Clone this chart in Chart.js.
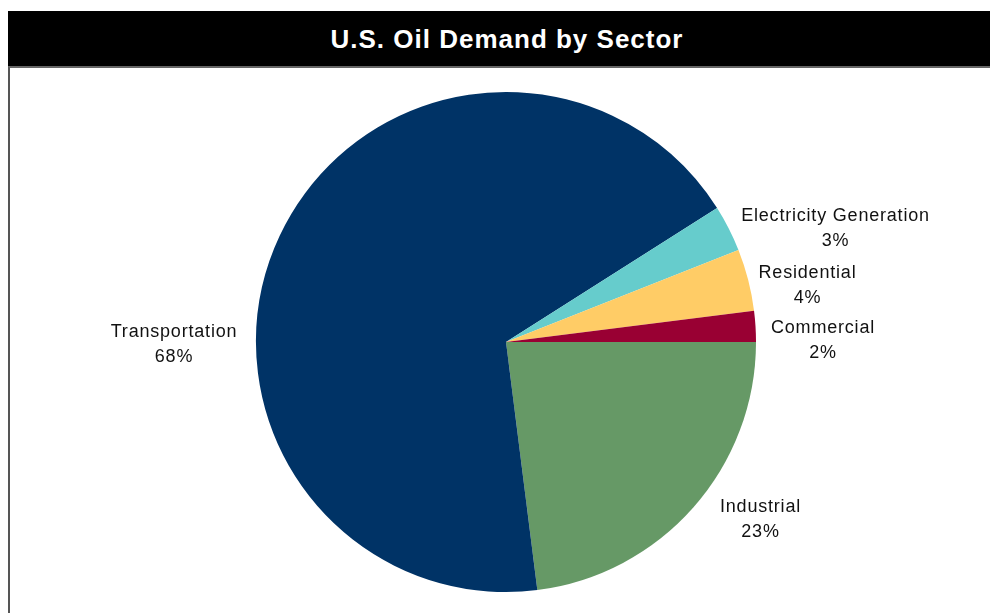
<!DOCTYPE html>
<html>
<head>
<meta charset="utf-8">
<title>U.S. Oil Demand by Sector</title>
<script src="https://cdn.jsdelivr.net/npm/chart.js@4"></script>
<style>
    html, body { margin: 0; padding: 0; background: #fff; overflow: hidden; }
    body { width: 990px; height: 613px; position: relative; }
    .title-bar {
        position: absolute; left: 8px; top: 11px; width: 998px; height: 55px;
        background: #000; color: #fff; text-align: center;
        font: bold 26px "Liberation Sans", Arial, sans-serif;
        line-height: 56px; letter-spacing: 1px;
    }
    .frame {
        position: absolute; left: 8px; top: 66px; width: 990px; height: 560px;
        border-top: 2px solid #666; border-left: 2px solid #555;
    }
    #chart { position: absolute; left: 0; top: 0; }
</style>
</head>
<body>
<div class="title-bar">U.S. Oil Demand by Sector</div>
<div class="frame"></div>
<canvas id="chart" width="990" height="613"></canvas>

<script>
/* ── Data ── */
const sectors = ['Industrial', 'Transportation', 'Electricity Generation', 'Residential', 'Commercial'];
const shares = [23, 68, 3, 4, 2];
const sliceColors = ['#669966', '#003366', '#66CCCC', '#FFCC66', '#990033'];

// label anchor, in pie radii from the centre (x, y of first baseline)
const labelSpots = [
    [1.018, 0.68],
    [-1.328, -0.02],
    [1.318, -0.484],
    [1.206, -0.256],
    [1.268, -0.036]
];

/* ── Outside labels: name + percent ── */
const sliceLabels = {
    id: 'sliceLabels',
    afterDatasetsDraw(chart) {
        const ctx = chart.ctx;
        const arcs = chart.getDatasetMeta(0).data;
        ctx.save();
        ctx.font = '18px "Liberation Sans", Arial, sans-serif';
        ctx.fillStyle = '#111';
        ctx.textAlign = 'center';
        ctx.textBaseline = 'alphabetic';
        if ('letterSpacing' in ctx) ctx.letterSpacing = '0.8px';
        arcs.forEach(function (arc, i) {
            const r = arc.outerRadius;
            const x = arc.x + labelSpots[i][0] * r;
            const y = arc.y + labelSpots[i][1] * r;
            ctx.fillText(sectors[i], x, y);
            ctx.fillText(shares[i] + '%', x, y + 25);
        });
        ctx.restore();
    }
};

new Chart(document.getElementById('chart').getContext('2d'), {
    type: 'pie',
    data: {
        labels: sectors,
        datasets: [{
            data: shares,
            backgroundColor: sliceColors,
            borderWidth: 0
        }]
    },
    options: {
        responsive: false,
        animation: false,
        rotation: 90,
        layout: {
            padding: { left: 256, right: 234, top: 92, bottom: 21 }
        },
        plugins: {
            legend: { display: false },
            tooltip: { enabled: false },
            title: { display: false }
        }
    },
    plugins: [sliceLabels]
});
</script>
</body>
</html>
